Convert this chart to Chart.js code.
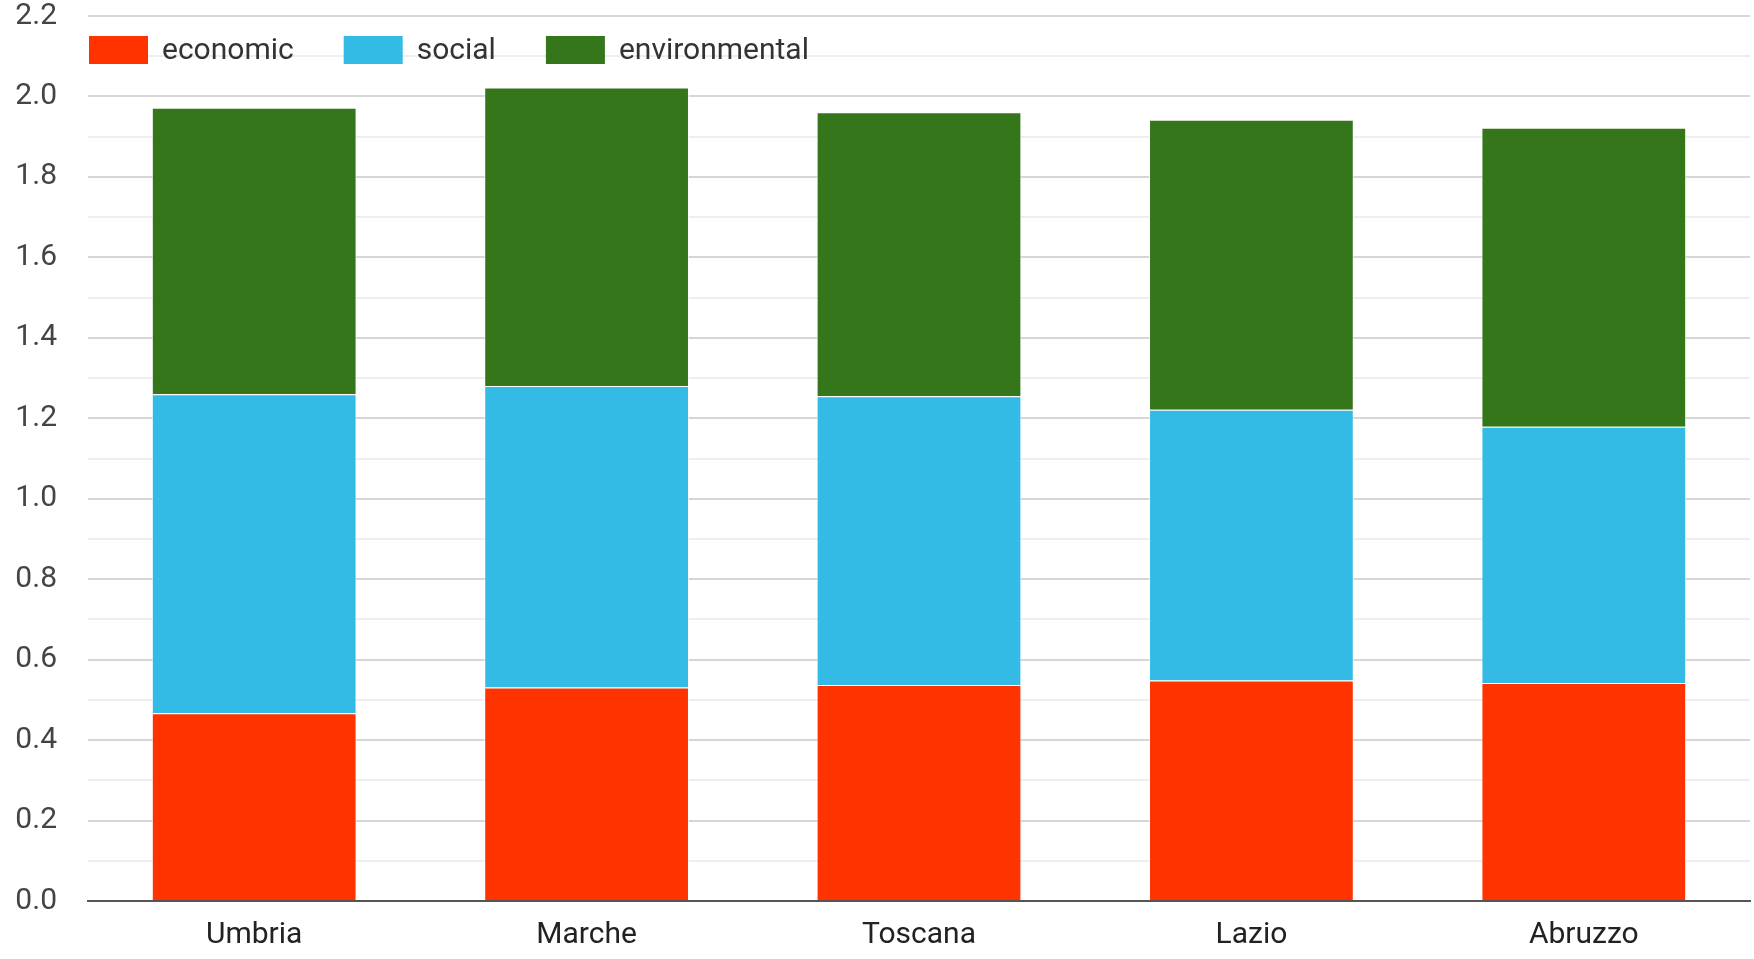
<!DOCTYPE html>
<html>
<head>
<meta charset="utf-8">
<script src="https://cdn.jsdelivr.net/npm/chart.js@4"></script>
<style>
    body { margin: 0; background: #fff; }
    #wrap { width: 1754px; height: 959px; }
</style>
</head>
<body>
<div id="wrap"><canvas id="chart" width="1754" height="959"></canvas></div>
<script>
const regions = ['Umbria', 'Marche', 'Toscana', 'Lazio', 'Abruzzo'];
const economic = [0.467, 0.531, 0.537, 0.548, 0.542];
const social = [0.793, 0.749, 0.718, 0.673, 0.637];
const environmental = [0.712, 0.742, 0.706, 0.721, 0.743];

const font = 'Roboto, "Liberation Sans", Arial, sans-serif';

function series(label, data, color) {
    return {
        label: label,
        data: data,
        backgroundColor: color,
        borderColor: 'rgba(255,255,255,0.7)',
        borderWidth: 1,
        categoryPercentage: 1.0,
        barPercentage: 0.616
    };
}

// legend drawn inside the plot, top-left, like the original
const insideLegend = {
    id: 'insideLegend',
    afterDatasetsDraw(chart) {
        const c = chart.ctx;
        const area = chart.chartArea;
        let x = area.left + 1;
        const y = area.top + 34;
        c.save();
        c.font = '30px ' + font;
        c.textBaseline = 'middle';
        chart.data.datasets.forEach(ds => {
            c.fillStyle = ds.backgroundColor;
            c.fillRect(x, y - 14, 59, 28);
            x += 59 + 14;
            c.fillStyle = '#333';
            c.fillText(ds.label, x, y + 1);
            x += c.measureText(ds.label).width + 50;
        });
        c.restore();
    }
};

const ctx = document.getElementById('chart').getContext('2d');
new Chart(ctx, {
    type: 'bar',
    data: {
        labels: regions,
        datasets: [
            series('economic', economic, '#ff3300'),
            series('social', social, '#33bbe5'),
            series('environmental', environmental, '#35761a')
        ]
    },
    plugins: [insideLegend],
    options: {
        responsive: false,
        animation: false,
        layout: { padding: { left: 14, right: 4, top: 0, bottom: 0 } },
        plugins: {
            tooltip: { enabled: false },
            legend: { display: false }
        },
        scales: {
            x: {
                stacked: true,
                grid: { display: false, drawTicks: false },
                border: { display: true, color: '#555', width: 2 },
                afterFit: s => { s.height = 58; },
                ticks: {
                    color: '#222',
                    padding: 18,
                    font: { family: font, size: 30, lineHeight: 1.1 }
                }
            },
            y: {
                stacked: true,
                min: 0,
                max: 2.2,
                border: { display: false },
                afterFit: s => {
                    s.width = 74;
                    s.paddingTop = 16;
                    s.paddingBottom = 0;
                },
                grid: {
                    drawTicks: false,
                    lineWidth: 2,
                    color: c => (c.index % 2 === 0 ? '#d6d6d6' : '#eeeeee')
                },
                ticks: {
                    stepSize: 0.1,
                    autoSkip: false,
                    padding: 31,
                    color: '#444',
                    font: { family: font, size: 30, lineHeight: 1.1 },
                    callback: (v, i) => (i % 2 === 0 ? v.toFixed(1) : '')
                }
            }
        }
    }
});
</script>
</body>
</html>
